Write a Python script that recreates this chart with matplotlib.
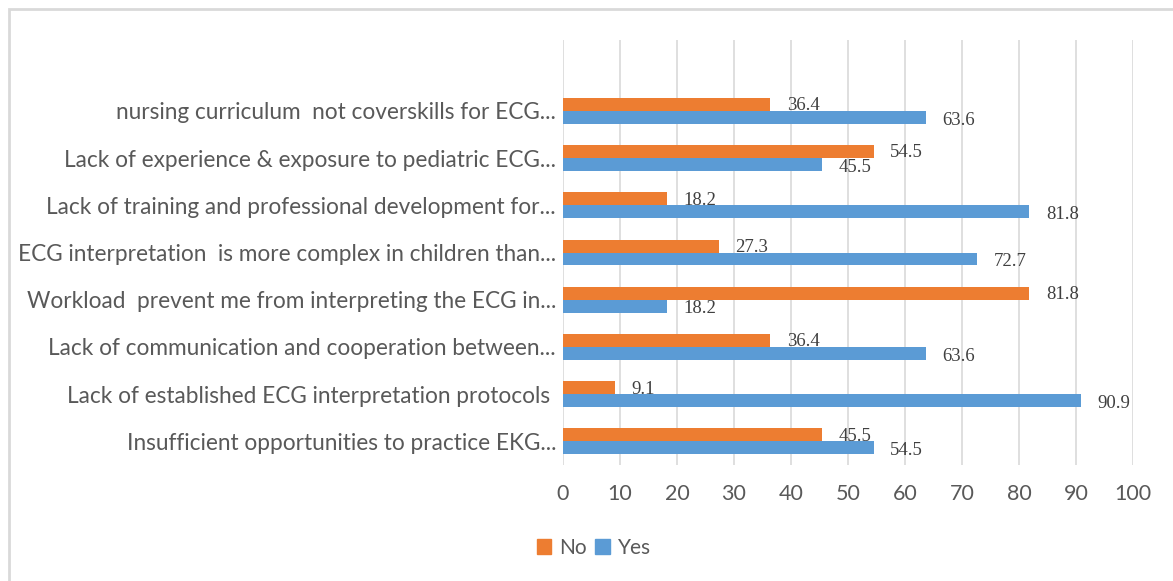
import matplotlib
matplotlib.use("Agg")
import matplotlib.pyplot as plt
from matplotlib.patches import Rectangle, Patch

categories = [
    "Insufficient opportunities to practice EKG...",
    "Lack of established ECG interpretation protocols ",
    "Lack of communication and cooperation between...",
    "Workload  prevent me from interpreting the ECG in...",
    "ECG interpretation  is more complex in children than...",
    "Lack of training and professional development for...",
    "Lack of experience & exposure to pediatric ECG...",
    "nursing curriculum  not coverskills for ECG...",
]
no_values = [45.5, 9.1, 36.4, 81.8, 27.3, 18.2, 54.5, 36.4]
yes_values = [54.5, 90.9, 63.6, 18.2, 72.7, 81.8, 45.5, 63.6]
x_ticks = [0, 10, 20, 30, 40, 50, 60, 70, 80, 90, 100]
series_names = ["No", "Yes"]

ORANGE = "#ED7D31"
BLUE = "#5B9BD5"
GRAY_TXT = "#595959"

fig = plt.figure(figsize=(11.73, 5.81), dpi=100)
fig.patch.set_facecolor("white")
fig.patches.append(Rectangle((9 / 1173, -0.01), 1.02, 1 - 9 / 581 + 0.01,
                             transform=fig.transFigure, fill=False,
                             edgecolor="#d9d9d9", linewidth=2))

ax = fig.add_axes([563 / 1173, 1 - 465 / 581, (1133 - 563) / 1173, (465 - 40) / 581])

h = 0.275
pos = list(range(len(categories)))
ax.barh([p + h / 2 for p in pos], no_values, height=h, color=ORANGE, zorder=3)
ax.barh([p - h / 2 for p in pos], yes_values, height=h, color=BLUE, zorder=3)

for p, v in zip(pos, no_values):
    ax.annotate(f"{v}", (v, p + h / 2), xytext=(12, -1), textcoords="offset points",
                va="center", ha="left", fontsize=13.5, family="Liberation Serif",
                color="#404040", zorder=4)
for p, v in zip(pos, yes_values):
    ax.annotate(f"{v}", (v, p - h / 2), xytext=(12, -2), textcoords="offset points",
                va="center", ha="left", fontsize=13.5, family="Liberation Serif",
                color="#404040", zorder=4)

ax.set_xlim(0, 100)
ax.set_ylim(-0.5, len(categories) + 0.5)
ax.set_xticks(x_ticks)
ax.set_xticklabels([str(t) for t in x_ticks], fontsize=15.5, family="Lato", color=GRAY_TXT)
ax.set_yticks(pos)
ax.set_yticklabels(categories, fontsize=16.3, family="Lato", color=GRAY_TXT)
ax.tick_params(axis="both", length=0)
ax.tick_params(axis="x", pad=14)
ax.tick_params(axis="y", pad=5)
ax.grid(axis="x", color="#d9d9d9", linewidth=1.2, zorder=0)
for s in ax.spines.values():
    s.set_visible(False)

handles = [Patch(color=ORANGE), Patch(color=BLUE)]
fig.legend(handles, series_names, loc="center", bbox_to_anchor=(594 / 1173, 1 - 548 / 581),
           ncol=2, frameon=False, prop={"family": "Lato", "size": 15},
           handlelength=0.7, handleheight=0.7, handletextpad=0.4, columnspacing=0.4,
           labelcolor=GRAY_TXT)

fig.savefig("out.png", dpi=100)
